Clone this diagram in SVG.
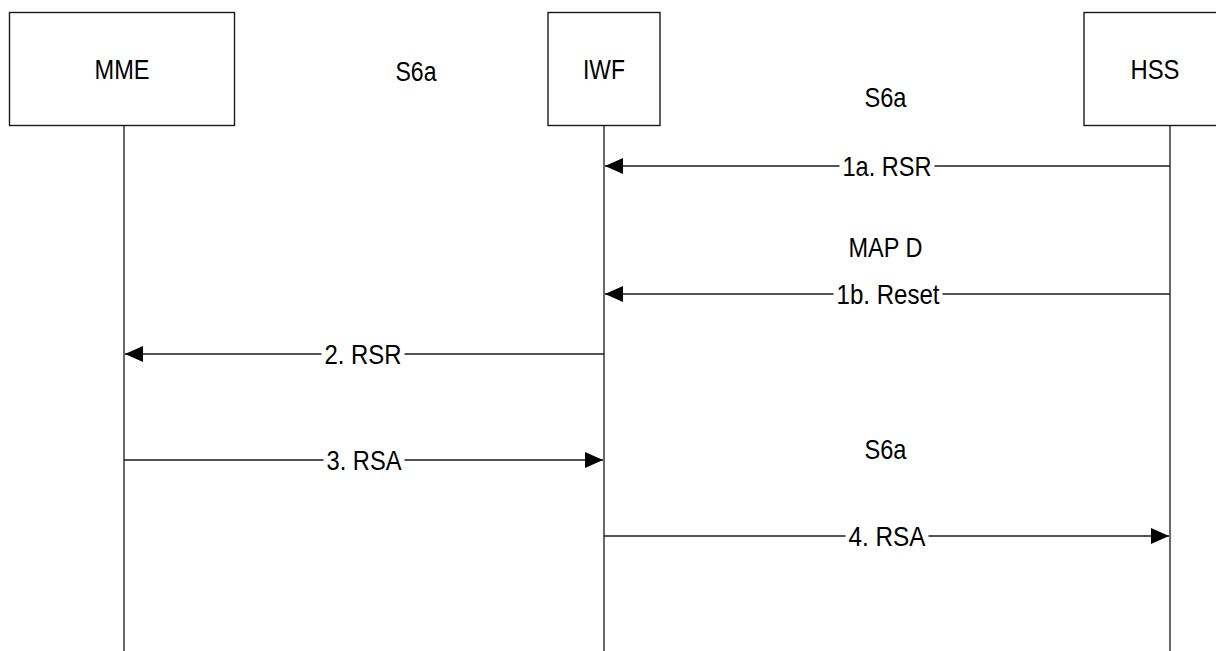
<svg xmlns="http://www.w3.org/2000/svg" width="1216" height="651" viewBox="0 0 1216 651">
<style>
  .box { fill: #ffffff; stroke: #1a1a1a; stroke-width: 1.4; }
  .life { stroke: #1a1a1a; stroke-width: 1.3; fill: none; }
  .msg { stroke: #1a1a1a; stroke-width: 1.3; fill: none; marker-end: url(#arrow); }
  .lbl { font-family: "Liberation Sans", Arial, sans-serif; font-size: 28px; fill: #000000; }
  .bg { fill: #ffffff; stroke: none; }
</style>
<defs>
  <marker id="arrow" markerUnits="userSpaceOnUse" markerWidth="18" markerHeight="16" refX="18" refY="8" orient="auto">
    <path d="M0,0 L18,8 L0,16 Z" fill="#000000"/>
  </marker>
</defs>
<rect x="0" y="0" width="1216" height="651" fill="#ffffff"/>

<g id="node-mme">
  <rect class="box" x="9.5" y="12.5" width="225" height="113"/>
  <text class="lbl" x="94.5" y="79" textLength="55" lengthAdjust="spacingAndGlyphs">MME</text>
  <line class="life" x1="124" y1="125.5" x2="124" y2="651"/>
</g>

<g id="node-iwf">
  <rect class="box" x="548" y="12.5" width="112" height="113"/>
  <text class="lbl" x="583" y="79" textLength="42" lengthAdjust="spacingAndGlyphs">IWF</text>
  <line class="life" x1="604" y1="125.5" x2="604" y2="651"/>
</g>

<g id="node-hss">
  <rect class="box" x="1084" y="12.5" width="150" height="113"/>
  <text class="lbl" x="1130.5" y="78.5" textLength="49" lengthAdjust="spacingAndGlyphs">HSS</text>
  <line class="life" x1="1170" y1="125.5" x2="1170" y2="651"/>
</g>

<g id="interface-labels">
  <text class="lbl" x="395.5" y="80.5" textLength="41" lengthAdjust="spacingAndGlyphs">S6a</text>
  <text class="lbl" x="864.5" y="106.5" textLength="42" lengthAdjust="spacingAndGlyphs">S6a</text>
  <text class="lbl" x="848.5" y="257" textLength="74" lengthAdjust="spacingAndGlyphs">MAP D</text>
  <text class="lbl" x="864.5" y="458.5" textLength="42" lengthAdjust="spacingAndGlyphs">S6a</text>
</g>

<g id="connectors">
  <line class="msg" x1="1170" y1="166" x2="605" y2="166"/>
  <rect class="bg" x="839.5" y="161" width="95" height="10"/>
  <text class="lbl" x="842.5" y="176" textLength="89" lengthAdjust="spacingAndGlyphs">1a. RSR</text>

  <line class="msg" x1="1170" y1="294" x2="605" y2="294"/>
  <rect class="bg" x="833.5" y="289" width="109" height="10"/>
  <text class="lbl" x="836.5" y="304" textLength="103" lengthAdjust="spacingAndGlyphs">1b. Reset</text>

  <line class="msg" x1="604" y1="354" x2="125" y2="354"/>
  <rect class="bg" x="321.5" y="349" width="83" height="10"/>
  <text class="lbl" x="324.5" y="364" textLength="77" lengthAdjust="spacingAndGlyphs">2. RSR</text>

  <line class="msg" x1="124" y1="460" x2="603" y2="460"/>
  <rect class="bg" x="323.5" y="455" width="81" height="10"/>
  <text class="lbl" x="326.5" y="470" textLength="75" lengthAdjust="spacingAndGlyphs">3. RSA</text>

  <line class="msg" x1="604" y1="536" x2="1169" y2="536"/>
  <rect class="bg" x="845.5" y="531" width="83" height="10"/>
  <text class="lbl" x="848.5" y="546" textLength="77" lengthAdjust="spacingAndGlyphs">4. RSA</text>
</g>
</svg>
